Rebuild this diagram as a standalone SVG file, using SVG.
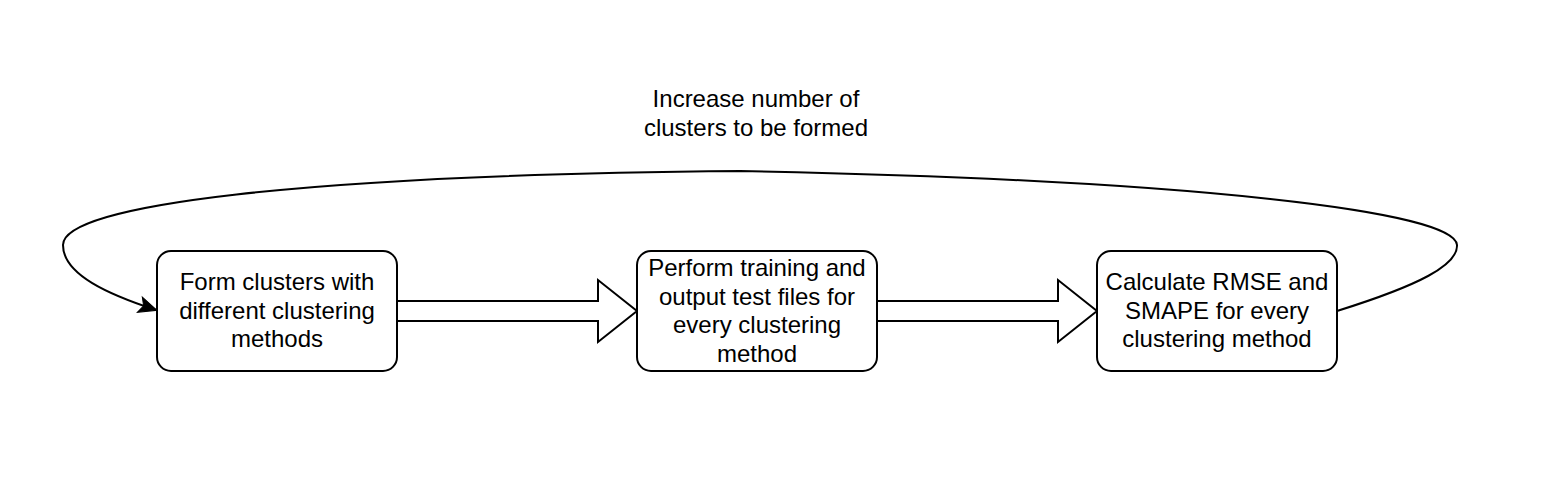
<svg xmlns="http://www.w3.org/2000/svg" width="1558" height="480" viewBox="0 0 1558 480">
<style>
.box{fill:#fff;stroke:#000;stroke-width:2}
.t{font-family:"Liberation Sans",Arial,sans-serif;font-size:24px;fill:#000;text-anchor:middle}
.blk{fill:#fff;stroke:#000;stroke-width:2;stroke-linejoin:miter}
.edge{fill:none;stroke:#000;stroke-width:2}
</style>
<defs>
<marker id="ah" markerWidth="18" markerHeight="16" viewBox="0 0 18 16" refX="17" refY="8" orient="auto" markerUnits="userSpaceOnUse" overflow="visible">
<path d="M0,0 L18,8 L0,16 L4,8 Z" fill="#000" stroke="#000" stroke-width="1"/>
</marker>
</defs>
<rect width="1558" height="480" fill="#fff"/>
<g id="connectors">
<path class="blk" d="M397,301 L598,301 L598,280 L637,311 L598,342 L598,321 L397,321 Z"/>
<path class="blk" d="M877,301 L1058,301 L1058,280 L1097,311 L1058,342 L1058,321 L877,321 Z"/>
<path class="edge" marker-end="url(#ah)" d="M1337,311 C1420,285 1458,265 1457,245 C1455,212 1200,180 740,171 C300,175 63,205 63,245 C63,275 110,295 156,310"/>
<g id="loop-label">
<text class="t" x="756" y="107">Increase number of</text>
<text class="t" x="756" y="136">clusters to be formed</text>
</g>
</g>
<g id="node1">
<rect class="box" x="157" y="251" width="240" height="120" rx="14"/>
<text class="t" x="277" y="290">Form clusters with</text>
<text class="t" x="277" y="319">different clustering</text>
<text class="t" x="277" y="347">methods</text>
</g>
<g id="node2">
<rect class="box" x="637" y="251" width="240" height="120" rx="14"/>
<text class="t" x="757" y="276">Perform training and</text>
<text class="t" x="757" y="305">output test files for</text>
<text class="t" x="757" y="333">every clustering</text>
<text class="t" x="757" y="362">method</text>
</g>
<g id="node3">
<rect class="box" x="1097" y="251" width="240" height="120" rx="14"/>
<text class="t" x="1217" y="290">Calculate RMSE and</text>
<text class="t" x="1217" y="319">SMAPE for every</text>
<text class="t" x="1217" y="347">clustering method</text>
</g>
</svg>
